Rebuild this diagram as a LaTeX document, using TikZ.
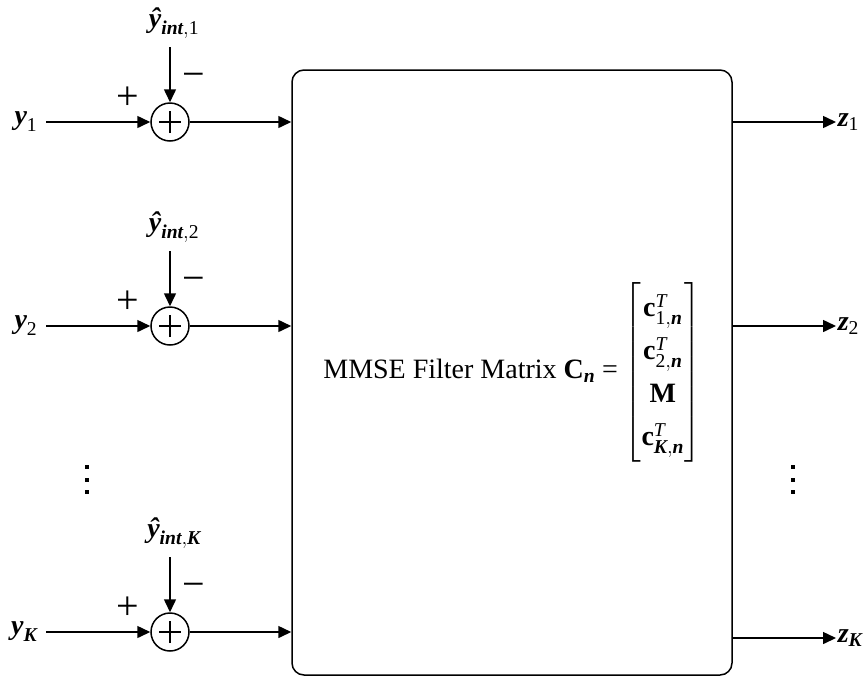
\documentclass[tikz,border=0pt]{standalone}
\usepackage{amsmath}
\usepackage{fontspec}
\setmainfont{Liberation Serif}
\usetikzlibrary{arrows.meta}
\newcommand{\bi}[1]{\text{\bfseries\itshape #1}}
\newcommand{\rg}[1]{\text{\normalfont #1}}
\newcommand{\bc}{\text{\bfseries c}}
\begin{document}
\begin{tikzpicture}[x=1pt, y=-1pt,
  font=\fontsize{28}{33}\selectfont,
  line width=1.5pt,
  filt/.style={draw, rounded corners=12pt, minimum width=440pt, minimum height=605pt, inner sep=0pt},
  summer/.style={draw, circle, minimum size=38pt, inner sep=0pt,
    path picture={\draw[line width=1.5pt]
      ([xshift=-11pt]path picture bounding box.center) -- ([xshift=11pt]path picture bounding box.center)
      ([yshift=-11pt]path picture bounding box.center) -- ([yshift=11pt]path picture bounding box.center);}},
  lbl/.style={inner sep=1pt},
  sgn/.style={inner sep=0pt, font=\fontsize{40}{42}\selectfont},
  arr/.style={-{Triangle[length=13pt,width=12pt]}}
]
  \useasboundingbox (0,0) rectangle (866,683);

  % filter block
  \node[filt] (filt) at (512,372.5) {MMSE Filter Matrix $\text{\bfseries C}_{\bi{n}} \mathrel{\text{=}}
    \renewcommand{\arraystretch}{1.3}%
    \begin{bmatrix}
      \bc^{\textit{T}}_{\rg{1},\bi{n}} \\
      \bc^{\textit{T}}_{\rg{2},\bi{n}} \\
      \text{\bfseries M} \\
      \bc^{\textit{T}}_{\bi{K},\bi{n}}
    \end{bmatrix}$};

  % branches
  \foreach \k/\ry/\oy/\sb in {1/122/122/\rg{1}, 2/326/326/\rg{2}, K/632/638/\bi{K}} {
    \node[summer] (sum\k) at (170,\ry) {};
    \node[lbl, anchor=east] (y\k) at (39,\ry) {$\bi{y}_{\sb}$};
    \node[lbl] (yh\k) at (174,\ry-99) {$\bi{ŷ}_{\bi{int},\sb}$};
    \coordinate (tp\k) at (170,\ry-75);
    \node[sgn] (pl\k) at (128,\ry-24) {+};
    \node[sgn] (mi\k) at (194,\ry-42) {−};
    \node[lbl, anchor=west] (z\k) at (836,\oy) {$\bi{z}_{\sb}$};
    \draw[arr, shorten <=7pt] (y\k.east) -- (sum\k.west);
    \draw[arr] (tp\k) -- (sum\k.north);
    \draw[arr] (sum\k.east) -- (sum\k.east -| filt.west);
    \draw[arr] (filt.east |- z\k.west) -- (z\k.west);
  }

  % dots
  \foreach \dy in {467,479.5,492} {
    \fill (85,\dy-2) rectangle (89,\dy+2);
    \fill (791,\dy-2) rectangle (795,\dy+2);
  }
\end{tikzpicture}
\end{document}
